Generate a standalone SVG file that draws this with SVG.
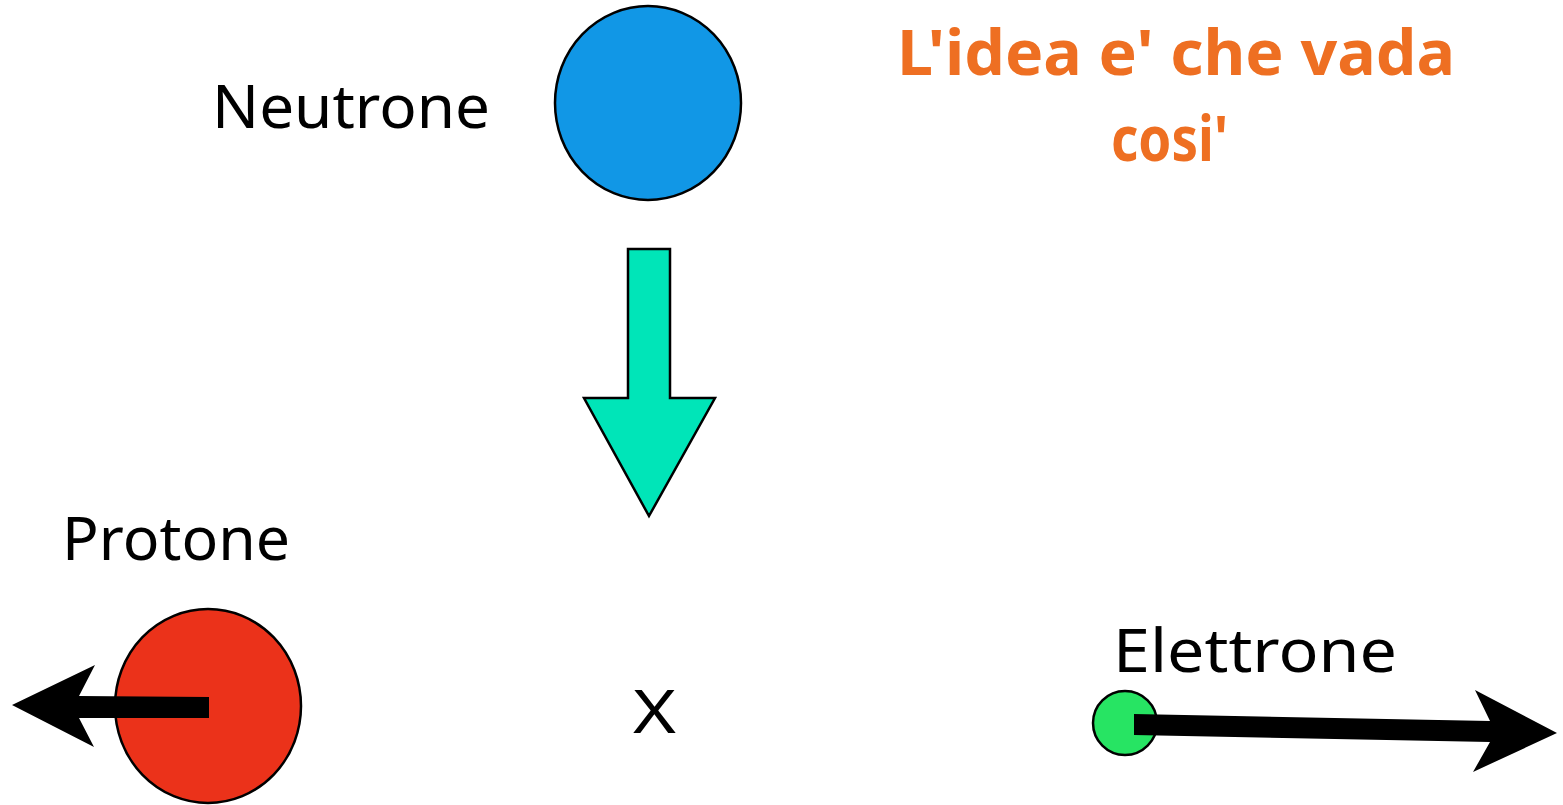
<svg xmlns="http://www.w3.org/2000/svg" width="1563" height="805" viewBox="0 0 1563 805">
<style>
.lbl{font-family:"Comic Sans MS","Noto Sans",sans-serif;font-size:60px;fill:#000}
.note{font-family:"Comic Sans MS","Noto Sans",sans-serif;font-size:62px;font-weight:bold;fill:#EE6F22}
.ball{stroke:#000;stroke-width:2.5}
</style>
<rect width="1563" height="805" fill="#fff"/>
<g id="neutrone">
<ellipse class="ball" cx="648" cy="103" rx="93" ry="97" fill="#1197E6"/>
<text class="lbl" x="212" y="128" textLength="278" lengthAdjust="spacingAndGlyphs">Neutrone</text>
</g>
<g id="nota">
<text class="note" x="897" y="75" textLength="558" lengthAdjust="spacingAndGlyphs">L'idea e' che vada</text>
<text class="note" x="1111" y="161" textLength="117" lengthAdjust="spacingAndGlyphs">cosi'</text>
</g>
<g id="protone">
<ellipse class="ball" cx="208" cy="706" rx="93" ry="97" fill="#EB321A"/>
<text class="lbl" x="62" y="560" textLength="228" lengthAdjust="spacingAndGlyphs">Protone</text>
</g>
<g id="x">
<text class="lbl" x="633" y="733" textLength="43" lengthAdjust="spacingAndGlyphs">X</text>
</g>
<g id="elettrone">
<circle class="ball" cx="1125" cy="723" r="32" fill="#27E463"/>
<text class="lbl" x="1113" y="672" textLength="284" lengthAdjust="spacingAndGlyphs">Elettrone</text>
</g>
<g id="connectors">
<polygon points="628,249 670,249 670,398 715,398 649,516 584,398 628,398" fill="#00E5B8" stroke="#000" stroke-width="2.5" stroke-linejoin="miter"/>
<polygon points="209,697 79,696 95,665 12,705 94,747 79,718 209,718" fill="#000"/>
<polygon points="1134,714 1490,721 1475,690 1557,733 1473,772 1490,742 1134,735" fill="#000"/>
</g>
</svg>
